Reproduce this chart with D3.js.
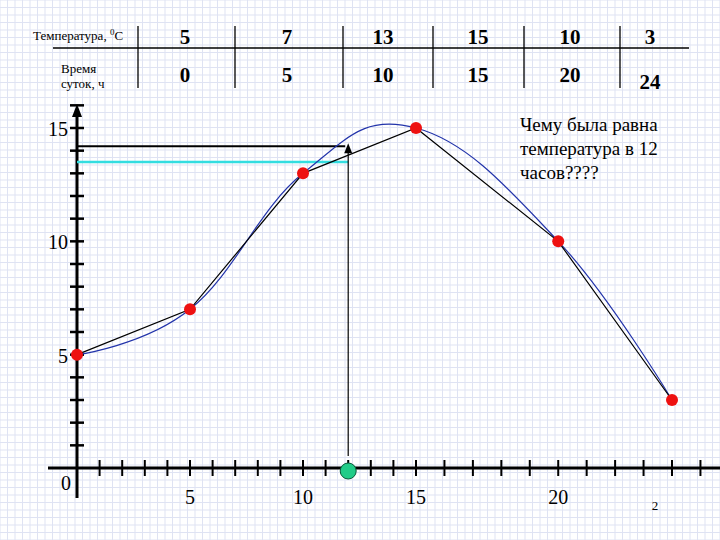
<!DOCTYPE html>
<html><head><meta charset="utf-8">
<script src="https://cdn.jsdelivr.net/npm/d3@7"></script>
<style>body{margin:0;background:#fff}svg{display:block}svg text{font-family:"Liberation Serif","DejaVu Serif",serif}</style>
</head><body>
<svg id="chart" width="720" height="540"></svg>
<script>
var hours = [0, 5, 10, 15, 20, 24];
var temps = [5, 7, 13, 15, 10, 3];
var tableCols = [185, 287, 383, 478, 570, 650];
var xTicks = [5, 10, 15, 20];
var yTicks = [5, 10, 15];
var askHour = 12;

var svg = d3.select("#chart");

// graph paper background
var grid = svg.append("g");
for (var gx = 0; gx <= 720; gx += 7.5) {
	grid.append("line").attr("x1", gx).attr("x2", gx).attr("y1", 0).attr("y2", 540)
		.attr("stroke", "#dfe3f3").attr("stroke-width", 1);
}
for (var gy = 0; gy <= 540; gy += 7.5) {
	grid.append("line").attr("y1", gy).attr("y2", gy).attr("x1", 0).attr("x2", 720)
		.attr("stroke", "#dfe3f3").attr("stroke-width", 1);
}

// table
var tbl = svg.append("g").attr("fill", "#000");
tbl.append("line").attr("x1", 53).attr("x2", 689).attr("y1", 48).attr("y2", 48).attr("stroke", "#000").attr("stroke-width", 1.5);
[138, 235, 343, 433, 524, 620].forEach(function (vx) {
	tbl.append("line").attr("x1", vx).attr("x2", vx).attr("y1", 26).attr("y2", 88).attr("stroke", "#000").attr("stroke-width", 1.3);
});
tbl.append("text").attr("x", 33).attr("y", 40).attr("font-size", 13).html("Температура, <tspan dy='-5' font-size='9'>0</tspan><tspan dy='5'>C</tspan>");
tbl.append("text").attr("x", 61).attr("y", 73).attr("font-size", 13).text("Время");
tbl.append("text").attr("x", 61).attr("y", 88).attr("font-size", 13).text("суток, ч");
temps.forEach(function (t, i) {
	tbl.append("text").attr("x", tableCols[i]).attr("y", 44).attr("text-anchor", "middle")
		.attr("font-size", 21).attr("font-weight", "bold").text(t);
	tbl.append("text").attr("x", tableCols[i]).attr("y", i === 5 ? 89 : 82).attr("text-anchor", "middle")
		.attr("font-size", 21).attr("font-weight", "bold").text(hours[i]);
});

// scales (hand-drawn axis: wider spacing after 15 h)
var x = d3.scaleLinear().domain([0, 15, 24]).range([77, 416, 672]);
var y = d3.scaleLinear().domain([0, 15]).range([468, 128]);

// axes
svg.append("line").attr("x1", 48).attr("x2", 720).attr("y1", y(0)).attr("y2", y(0)).attr("stroke", "#000").attr("stroke-width", 3);
svg.append("line").attr("x1", x(0)).attr("x2", x(0)).attr("y1", 498).attr("y2", 112).attr("stroke", "#000").attr("stroke-width", 3);
svg.append("path").attr("d", "M77,104 L72,117 L82,117 Z").attr("fill", "#000");
d3.range(1, 26).forEach(function (h) {
	svg.append("line").attr("x1", x(h)).attr("x2", x(h)).attr("y1", y(0) - 8).attr("y2", y(0) + 8).attr("stroke", "#000").attr("stroke-width", 2);
});
d3.range(1, 17).forEach(function (t) {
	svg.append("line").attr("x1", 70).attr("x2", 84).attr("y1", y(t)).attr("y2", y(t)).attr("stroke", "#000").attr("stroke-width", 2.5);
});
xTicks.forEach(function (h) {
	svg.append("text").attr("x", x(h)).attr("y", 504).attr("text-anchor", "middle").attr("font-size", 20).text(h);
});
yTicks.forEach(function (t) {
	svg.append("text").attr("x", 68).attr("y", y(t) + 8).attr("text-anchor", "end").attr("font-size", 20).text(t);
});
svg.append("text").attr("x", 66).attr("y", 490).attr("text-anchor", "middle").attr("font-size", 20).text("0");
svg.append("text").attr("x", 655).attr("y", 510).attr("text-anchor", "middle").attr("font-size", 13).text("2");

var pts = hours.map(function (h, i) { return [x(h), y(temps[i])]; });

// guide lines for 12 h
svg.append("line").attr("x1", x(0)).attr("x2", x(askHour) - 3).attr("y1", y(14.2)).attr("y2", y(14.2)).attr("stroke", "#000").attr("stroke-width", 2);
svg.append("line").attr("x1", x(0)).attr("x2", x(askHour)).attr("y1", y(13.5)).attr("y2", y(13.5)).attr("stroke", "#33dde0").attr("stroke-width", 2.5);
svg.append("line").attr("x1", x(askHour)).attr("x2", x(askHour)).attr("y1", y(0) - 12).attr("y2", y(14.2)).attr("stroke", "#000").attr("stroke-width", 1.2);
svg.append("path").attr("d", "M" + x(askHour) + "," + (y(14.2) - 3) + " l-4,10 l8,0 Z").attr("fill", "#000");

// smooth curve and straight segments
svg.append("path").attr("d", d3.line().curve(d3.curveCardinal.tension(-0.2))(pts))
	.attr("fill", "none").attr("stroke", "#2233aa").attr("stroke-width", 1.2);
svg.append("path").attr("d", d3.line()(pts)).attr("fill", "none").attr("stroke", "#000").attr("stroke-width", 1.2);

svg.selectAll("circle.pt").data(pts).enter().append("circle").attr("class", "pt")
	.attr("cx", function (d) { return d[0]; }).attr("cy", function (d) { return d[1]; })
	.attr("r", 6).attr("fill", "#ee1111");
svg.append("circle").attr("cx", x(askHour)).attr("cy", y(0) + 3).attr("r", 8).attr("fill", "#22cc88").attr("stroke", "#0a5a3a").attr("stroke-width", 1);

// question
var q = svg.append("text").attr("font-size", 19).attr("fill", "#000");
["Чему была равна", "температура в 12", "часов????"].forEach(function (s, i) {
	q.append("tspan").attr("x", 520).attr("y", 131 + i * 24).text(s);
});
</script>
</body></html>
